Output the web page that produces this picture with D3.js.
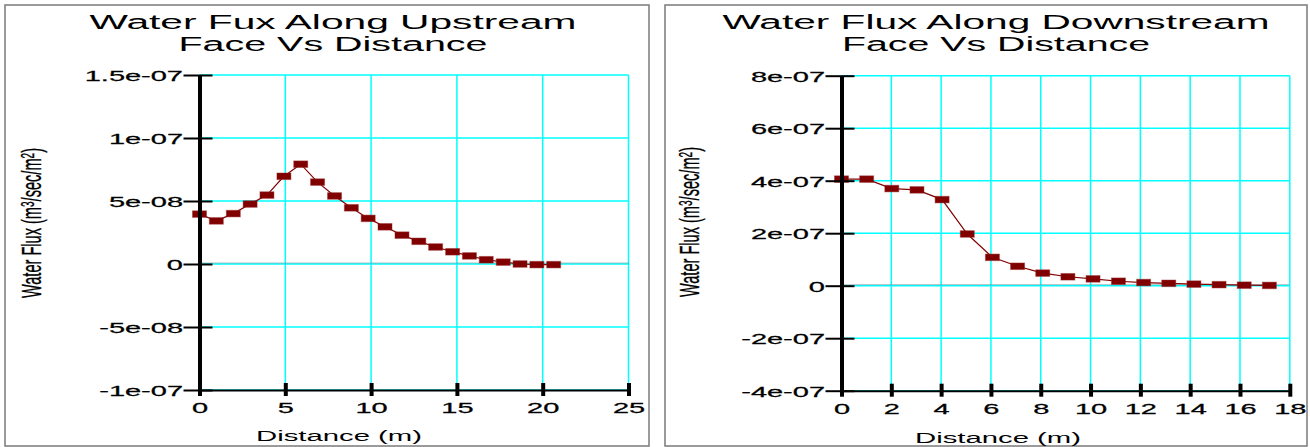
<!DOCTYPE html>
<html>
<head>
<meta charset="utf-8">
<script src="https://cdn.jsdelivr.net/npm/d3@7/dist/d3.min.js"></script>
<style>
  body { margin: 0; background: #fff; }
  svg { display: block; }
</style>
</head>
<body>
<div id="chart"></div>
<script>
// upstream face (left chart)
var upDist = [0, 0.98, 1.97, 2.95, 3.93, 4.92, 5.9, 6.88, 7.87, 8.85, 9.83,
              10.81, 11.8, 12.78, 13.76, 14.75, 15.73, 16.71, 17.7, 18.68, 19.66, 20.64];
var upFlux = [3.96e-8, 3.42e-8, 4.0e-8, 4.76e-8, 5.47e-8, 6.96e-8, 7.92e-8, 6.5e-8, 5.4e-8, 4.46e-8, 3.62e-8,
              2.95e-8, 2.29e-8, 1.8e-8, 1.35e-8, 0.97e-8, 0.64e-8, 0.34e-8, 0.15e-8, 0.0, -0.05e-8, -0.05e-8];
var upXTicks = [0, 5, 10, 15, 20, 25];
var upYTicks = [-1e-7, -5e-8, 0, 5e-8, 1e-7, 1.5e-7];
var upYLabels = ["-1e-07", "-5e-08", "0", "5e-08", "1e-07", "1.5e-07"];

// downstream face (right chart)
var downDist = [0, 1.01, 2.02, 3.03, 4.04, 5.05, 6.06, 7.07, 8.08, 9.09, 10.1,
                11.12, 12.13, 13.14, 14.15, 15.16, 16.17, 17.18];
var downFlux = [4.06e-7, 4.06e-7, 3.7e-7, 3.65e-7, 3.28e-7, 1.97e-7, 1.08e-7, 0.74e-7, 0.48e-7, 0.34e-7, 0.26e-7,
                0.17e-7, 0.12e-7, 0.09e-7, 0.06e-7, 0.04e-7, 0.02e-7, 0.01e-7];
var downXTicks = [0, 2, 4, 6, 8, 10, 12, 14, 16, 18];
var downYTicks = [-4e-7, -2e-7, 0, 2e-7, 4e-7, 6e-7, 8e-7];
var downYLabels = ["-4e-07", "-2e-07", "0", "2e-07", "4e-07", "6e-07", "8e-07"];

// y title pieces: [text, superscript?]
var yTitleParts = [["Water Flux (m", false], ["3", true], ["/sec/m", false], ["2", true], [")", false]];
var xTitle = "Distance (m)";

var FONT = "'Liberation Sans', Arial, sans-serif";
var GRID = "#00ffff";
var RED = "#800000";

var svg = d3.select("#chart").append("svg")
            .attr("width", 1310)
            .attr("height", 447);

function drawChart(cfg) {
  var g = svg.append("g");

  // panel frame
  g.append("rect")
   .attr("x", cfg.box[0]).attr("y", cfg.box[1])
   .attr("width", cfg.box[2]).attr("height", cfg.box[3])
   .attr("fill", "#fff").attr("stroke", "#7a7a7a").attr("stroke-width", 1.5);

  var x = d3.scaleLinear()
            .domain([cfg.xTicks[0], cfg.xTicks[cfg.xTicks.length - 1]])
            .range([cfg.left, cfg.right]);
  var y = d3.scaleLinear()
            .domain([cfg.yTicks[0], cfg.yTicks[cfg.yTicks.length - 1]])
            .range([cfg.bottom, cfg.top]);

  // grid
  g.selectAll(".vgrid").data(cfg.xTicks).enter().append("line")
   .attr("x1", function(d) { return x(d); }).attr("x2", function(d) { return x(d); })
   .attr("y1", y.range()[1]).attr("y2", y.range()[0])
   .attr("stroke", GRID).attr("stroke-width", 1.5);
  g.selectAll(".hgrid").data(cfg.yTicks).enter().append("line")
   .attr("x1", x.range()[0]).attr("x2", x.range()[1])
   .attr("y1", function(d) { return y(d); }).attr("y2", function(d) { return y(d); })
   .attr("stroke", GRID).attr("stroke-width", 1.5);

  // dotted zero line
  g.append("line")
   .attr("x1", x.range()[0]).attr("x2", x.range()[1])
   .attr("y1", y(0) - 1).attr("y2", y(0) - 1)
   .attr("stroke", "#4d7f86").attr("stroke-width", 1)
   .attr("stroke-dasharray", "1,1");

  // series
  var pts = cfg.xs.map(function(d, i) { return [d, cfg.ys[i]]; });
  g.append("path")
   .datum(pts)
   .attr("fill", "none").attr("stroke", RED).attr("stroke-width", 1.2)
   .attr("d", d3.line().x(function(d) { return x(d[0]); }).y(function(d) { return y(d[1]); }));
  g.selectAll(".mark").data(pts).enter().append("rect")
   .attr("x", function(d) { return x(d[0]) - 7; })
   .attr("y", function(d) { return y(d[1]) - 3.3; })
   .attr("width", 14).attr("height", 6.6)
   .attr("fill", RED).attr("stroke", "rgba(150,40,40,0.45)").attr("stroke-width", 1);

  // y axis
  var ya = g.append("g")
            .attr("transform", "translate(" + x(0) + ",0)")
            .call(d3.axisLeft(y).tickValues(cfg.yTicks).tickSizeOuter(0)
                    .tickFormat(function(d, i) { return cfg.yLabels[i]; }));
  ya.select(".domain").attr("stroke", "#000").attr("stroke-width", 4);
  ya.selectAll(".tick line").attr("x1", -16).attr("x2", 13)
    .attr("stroke", "#000").attr("stroke-width", 2);
  ya.selectAll(".tick text")
    .attr("x", 0).attr("dy", null)
    .attr("transform", "translate(-16.5,5.5) scale(2.0,1)")
    .attr("font-family", FONT).attr("font-size", 14.5).attr("fill", "#000")
    .attr("stroke", "#000").attr("stroke-width", 0.25)
    .attr("text-anchor", "end");

  // x axis
  var xa = g.append("g")
            .attr("transform", "translate(0," + y.range()[0] + ")")
            .call(d3.axisBottom(x).tickValues(cfg.xTicks).tickSizeOuter(0));
  xa.select(".domain").attr("stroke", "#000").attr("stroke-width", 2);
  xa.selectAll(".tick line").attr("y1", -7).attr("y2", 6)
    .attr("stroke", "#000").attr("stroke-width", 4);
  xa.selectAll(".tick text")
    .attr("y", 0).attr("dy", null)
    .attr("transform", "translate(0,23) scale(2.0,1)")
    .attr("font-family", FONT).attr("font-size", 14.5).attr("fill", "#000")
    .attr("stroke", "#000").attr("stroke-width", 0.25)
    .attr("text-anchor", "middle");

  // titles
  cfg.title.forEach(function(t, i) {
    g.append("text")
     .attr("x", cfg.titleX).attr("y", 29 + i * 22)
     .attr("text-anchor", "middle")
     .attr("font-family", FONT).attr("font-size", 19.5)
     .attr("textLength", cfg.titleW[i]).attr("lengthAdjust", "spacingAndGlyphs")
     .text(t);
  });

  g.append("text")
   .attr("x", cfg.xTitleX).attr("y", cfg.xTitleY)
   .attr("text-anchor", "middle")
   .attr("font-family", FONT).attr("font-size", 15.5)
   .attr("textLength", 166).attr("lengthAdjust", "spacingAndGlyphs")
   .text(xTitle);

  var yt = g.append("text")
   .attr("transform", "translate(" + cfg.yTitleX + "," + cfg.yTitleY + ") rotate(-90) scale(1,1.75)")
   .attr("text-anchor", "middle")
   .attr("font-family", FONT).attr("font-size", 16)
   .attr("textLength", 150).attr("lengthAdjust", "spacingAndGlyphs")
   .attr("stroke", "#000").attr("stroke-width", 0.2);
  yTitleParts.forEach(function(p) {
    var ts = yt.append("tspan").text(p[0]);
    if (p[1]) ts.attr("font-size", 11).attr("baseline-shift", "35%");
  });
}

drawChart({
  box: [5, 5, 644, 441],
  left: 199.5, right: 628.5, top: 75, bottom: 390,
  xs: upDist, ys: upFlux,
  xTicks: upXTicks, yTicks: upYTicks, yLabels: upYLabels,
  title: ["Water Fux Along Upstream", "Face Vs Distance"],
  titleX: 333, titleW: [487, 309],
  xTitleX: 339, xTitleY: 441,
  yTitleX: 41, yTitleY: 223
});

drawChart({
  box: [665, 5, 642, 441],
  left: 841.5, right: 1289.8, top: 75.7, bottom: 390.7,
  xs: downDist, ys: downFlux,
  xTicks: downXTicks, yTicks: downYTicks, yLabels: downYLabels,
  title: ["Water Flux Along Downstream", "Face Vs Distance"],
  titleX: 996, titleW: [547, 308],
  xTitleX: 998, xTitleY: 443,
  yTitleX: 699, yTitleY: 222
});
</script>
</body>
</html>
